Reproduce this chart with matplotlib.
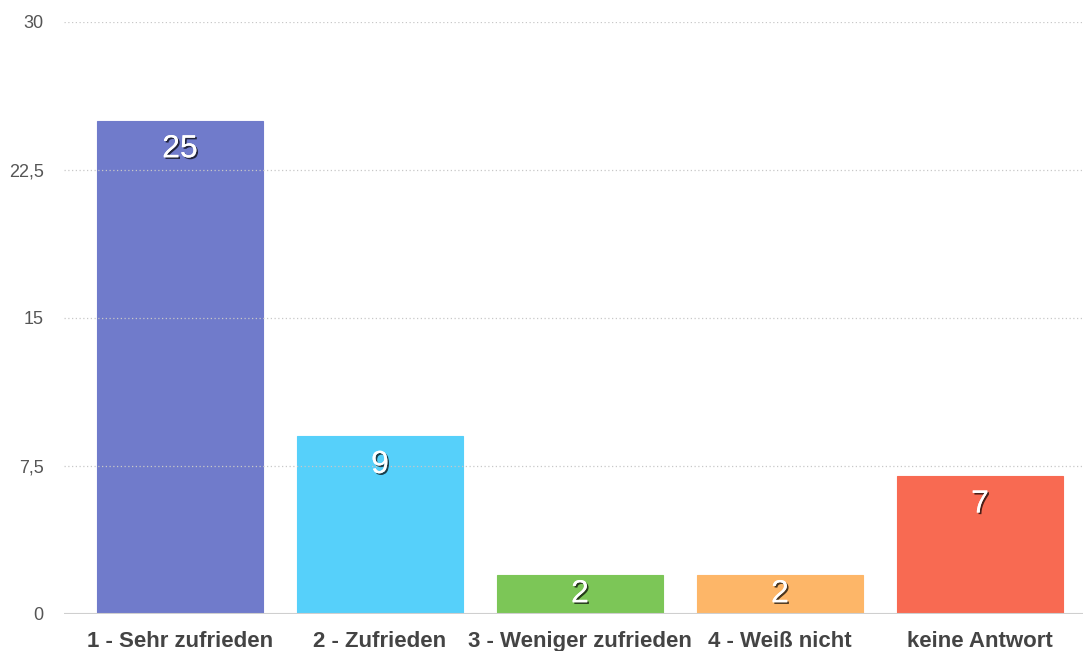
import matplotlib.pyplot as plt
import matplotlib.patheffects as pe

categories = ["1 - Sehr zufrieden", "2 - Zufrieden", "3 - Weniger zufrieden", "4 - Weiß nicht", "keine Antwort"]
values = [25, 9, 2, 2, 7]
colors = ["#707bcb", "#56d0fa", "#7cc657", "#fdb668", "#f86a52"]
yticks = [0, 7.5, 15, 22.5, 30]
ytick_labels = ["0", "7,5", "15", "22,5", "30"]

plt.rcParams['font.family'] = ['Liberation Sans', 'DejaVu Sans']

fig = plt.figure(figsize=(10.83, 6.51), dpi=100)
ax = fig.add_axes([64 / 1083, 37 / 651, (1083 - 64) / 1083, (614 - 22) / 651])

x = list(range(len(categories)))
ax.bar(x, values, width=0.83, color=colors, edgecolor=[c for c in colors], linewidth=0.8, zorder=2)

ax.set_xlim(-0.58, 4.515)
ax.set_ylim(0, 30)

# dotted gridlines, drawn over the bars
for t in yticks[1:]:
    ax.axhline(t, color="#c8c8c8", linestyle=(0, (1, 2)), linewidth=0.9, zorder=3)
ax.axhline(0, color="#cfcfcf", linewidth=1.5, zorder=3)

ax.set_yticks(yticks)
ax.set_yticklabels(ytick_labels, fontsize=13, color="#555555")
ax.set_xticks(x)
ax.set_xticklabels(categories, fontsize=16, fontweight="bold", color="#444444")
ax.tick_params(axis="y", length=0, pad=14.5)
ax.tick_params(axis="x", length=0, pad=12.5)
for s in ax.spines.values():
    s.set_visible(False)

shadow = [pe.withSimplePatchShadow(offset=(1.2, -1.2), shadow_rgbFace="black", alpha=0.7), pe.Normal()]
for xi, v in zip(x, values):
    y = max(v - 1.45, v / 2)
    ax.text(xi, y, str(v), ha="center", va="center", fontsize=23, color="white",
            path_effects=shadow, zorder=4)

fig.savefig("out.png", dpi=100)
